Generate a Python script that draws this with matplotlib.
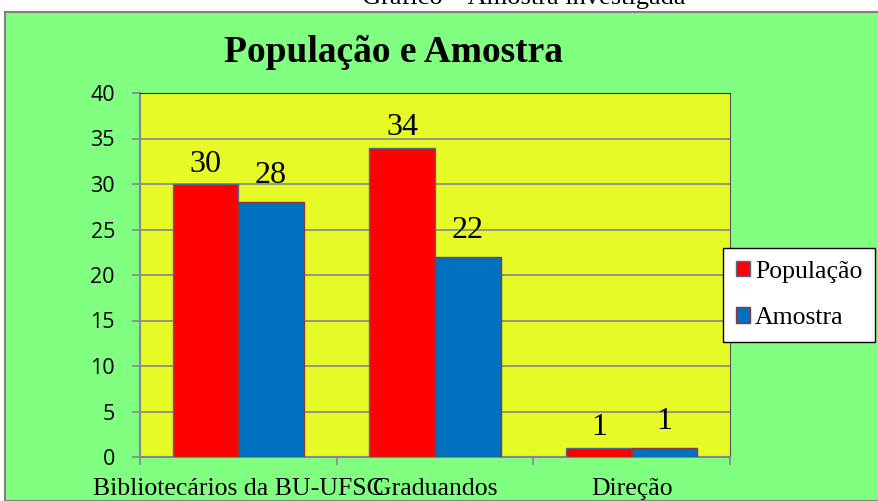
import matplotlib
matplotlib.use("Agg")
import matplotlib.pyplot as plt
import numpy as np
from matplotlib.patches import Rectangle, Patch

categories = ["Bibliotecários da BU-UFSC", "Graduandos", "Direção"]
populacao = [30, 34, 1]
amostra = [28, 22, 1]
series_names = ["População", "Amostra"]
yticks = [0, 5, 10, 15, 20, 25, 30, 35, 40]

W, H = 879, 501
fig = plt.figure(figsize=(W/100, H/100), dpi=100)
fig.patch.set_facecolor("white")
fig.add_artist(Rectangle((5/W, 0), 1.0, (H-12)/H, transform=fig.transFigure,
                         facecolor="#80FF80", edgecolor="#808080", linewidth=1.5, zorder=0))
fig.text(524/W, 1-4/H, "Gráfico – Amostra investigada", ha="center", va="baseline",
         fontsize=19, family="Liberation Serif", color="black")
fig.text(394/W, 1-52/H, "População e Amostra", ha="center", va="center",
         fontsize=27, fontweight="bold", family="Liberation Serif")

ax = fig.add_axes([140/W, 1-457/H, 590/W, 364/H])
ax.set_facecolor("#E6FA28")
x = np.arange(len(categories))
bw = 1/3
b1 = ax.bar(x - bw/2, populacao, bw, color="#FF0000", edgecolor="#4F6A8F", linewidth=1, zorder=3)
b2 = ax.bar(x + bw/2, amostra, bw, color="#0070C0", edgecolor="#8B3A3A", linewidth=1, zorder=3)
for bars, off in ((b1, 9), (b2, 13.5)):
    for r in bars:
        ax.annotate(f"{int(r.get_height())}", (r.get_x() + r.get_width()/2, r.get_height()),
                    xytext=(0, off), textcoords="offset points",
                    ha="center", va="baseline", fontsize=23, family="Liberation Serif")

ax.set_xlim(-0.5, 2.5)
ax.set_ylim(0, 40)
ax.set_yticks(yticks)
ax.set_xticks([-0.5, 0.5, 1.5, 2.5])
ax.set_xticklabels([])
ax.set_xticks(x, minor=True)
ax.set_xticklabels(categories, minor=True, fontsize=18.5, family="Liberation Serif")
ax.tick_params(axis="x", which="minor", length=0, pad=15)
ax.tick_params(axis="x", which="major", length=6, color="#878787", width=1.2)
ax.tick_params(axis="y", length=6, color="#878787", width=1.2, labelsize=15.5, pad=12)
for lab in ax.get_yticklabels():
    lab.set_family("Open Sans")
ax.yaxis.grid(True, color="#878787", linewidth=1.2, zorder=1)
ax.set_axisbelow(True)
ax.spines["left"].set_color("#878787")
ax.spines["bottom"].set_color("#878787")
ax.spines["left"].set_linewidth(1.5)
ax.spines["bottom"].set_linewidth(1.5)
ax.spines["top"].set_color("#333333")
ax.spines["right"].set_color("#555555")

handles = [Patch(facecolor="#FF0000", edgecolor="#4F6A8F"), Patch(facecolor="#0070C0", edgecolor="#8B3A3A")]
leg = fig.legend(handles, series_names, loc="upper left", bbox_to_anchor=(723/W, 1-248/H),
                 bbox_transform=fig.transFigure, frameon=True, fancybox=False,
                 prop={"family": "Liberation Serif", "size": 18.5}, handlelength=0.55,
                 handleheight=0.55, handletextpad=0.2, labelspacing=0.95, borderpad=0.5,
                 borderaxespad=0)
leg.get_frame().set_edgecolor("black")
leg.get_frame().set_facecolor("white")
leg.get_frame().set_alpha(1)

fig.savefig("out.png", dpi=100)
